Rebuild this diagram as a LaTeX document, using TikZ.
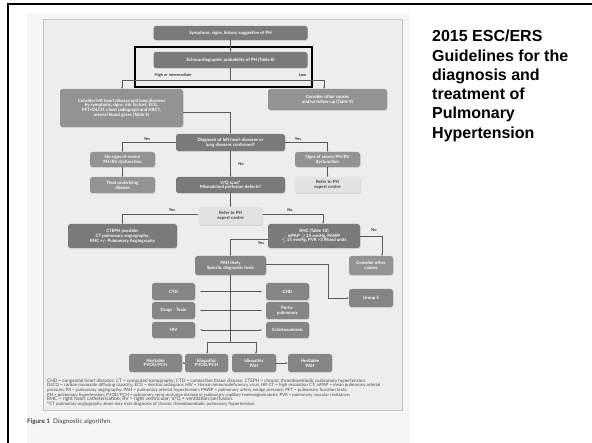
\documentclass[tikz,border=0pt]{standalone}
\usepackage{fontspec}
\setmainfont{Liberation Sans}
\newfontfamily\figfont{Lato}
\usetikzlibrary{arrows.meta,shadows}
\definecolor{boxd}{HTML}{7A7A7A}
\definecolor{boxm}{HTML}{858585}
\definecolor{boxl}{HTML}{939393}
\definecolor{refc}{HTML}{E2E2E2}
\definecolor{figbg}{HTML}{EDEDED}
\definecolor{figbd}{HTML}{C4C4C4}
\definecolor{band}{HTML}{F6F6F6}
\definecolor{lnc}{HTML}{5A5A5A}
\begin{document}
\begin{tikzpicture}[x=1pt,y=-1pt,
 box/.style={rounded corners=2.5pt, fill=boxd, text=white, font=\figfont\bfseries\fontsize{4.4}{4.8}\selectfont, align=center, inner sep=0.5pt, drop shadow={shadow xshift=0.6pt, shadow yshift=-0.9pt, opacity=0.25}},
 lbox/.style={box, fill=boxl},
 mbox/.style={box, fill=boxm},
 rbox/.style={box, fill=refc, text=black!75},
 conn/.style={draw=lnc, line width=0.5pt},
 arr/.style={conn, -{Stealth[length=2.2pt,width=1.8pt]}},
 darr/.style={conn, {Stealth[length=2.2pt,width=1.8pt]}-{Stealth[length=2.2pt,width=1.8pt]}},
 lab/.style={font=\figfont\bfseries\fontsize{4}{4.5}\selectfont, text=black!80, inner sep=0.5pt},
 fn/.style={font=\figfont\fontsize{3.9}{4}\selectfont, text=black!70, anchor=west, inner sep=0pt},
 ttl/.style={font=\bfseries\fontsize{16}{19.3}\selectfont, align=left, anchor=north west, inner sep=0pt}
]
\useasboundingbox (0,0) rectangle (592,443);
\fill[white] (0,0) rectangle (592,443);
\fill[band] (27,13) rectangle (410,443);
\fill[figbg, draw=figbd, line width=0.8pt] (43,19) rectangle (402,410);
\draw[line width=2pt] (7,4) -- (592,4);
\draw[line width=2pt] (8,3) -- (8,443);

\node[ttl] (title) at (432,30) {2015 ESC/ERS\\Guidelines for the\\diagnosis and\\treatment of\\Pulmonary\\Hypertension};

% boxes
\node[box, minimum width=154, minimum height=14] (sym) at (230.5,33) {Symptoms, signs, history suggestive of PH};
\node[box, minimum width=154, minimum height=16] (echo) at (230.5,60) {Echocardiographic probability of PH (Table 8)};
\node[lbox, minimum width=123, minimum height=38] (cleft) at (121.5,108) {Consider left heart disease and lung diseases\\by symptoms, signs, risk factors, ECG,\\PFT+DLCO, chest radiograph and HRCT,\\arterial blood gases (Table 9)};
\node[lbox, minimum width=119, minimum height=21] (cother) at (327.5,99.5) {Consider other causes\\and/or follow-up (Table 9)};
\node[box, minimum width=109, minimum height=17] (diag) at (230.5,142.5) {Diagnosis of left heart diseases or\\lung diseases confirmed?};
\node[lbox, minimum width=65, minimum height=15] (nosign) at (122.5,159.5) {No signs of severe\\PH/RV dysfunction};
\node[lbox, minimum width=65, minimum height=16] (treat) at (122.5,185) {Treat underlying\\disease};
\node[lbox, minimum width=65, minimum height=15] (sign) at (327.5,159.5) {Signs of severe PH/RV\\dysfunction};
\node[rbox, minimum width=66, minimum height=16] (ref1) at (327.5,185) {Refer to PH\\expert centre};
\node[box, minimum width=109, minimum height=16] (vq) at (230.5,185) {V/Q scan\textsuperscript{a}\\Mismatched perfusion defects?};
\node[rbox, minimum width=64, minimum height=18] (ref2) at (230.5,216) {Refer to PH\\expert centre};
\node[box, minimum width=109, minimum height=24] (cteph) at (122.5,236) {CTEPH possible:\\CT pulmonary angiography,\\RHC +/- Pulmonary Angiography};
\node[box, minimum width=92, minimum height=24] (rhc) at (314,236) {RHC (Table 10)\\mPAP $\geq$25 mmHg, PAWP\\$\leq$15 mmHg, PVR >3 Wood units};
\node[mbox, minimum width=71, minimum height=19] (pah) at (230.5,265.5) {PAH likely\\Specific diagnostic tests};
\node[lbox, minimum width=44, minimum height=19] (coth2) at (371,265.5) {Consider other\\causes};
\node[mbox, minimum width=44, minimum height=18] (g5) at (371,298) {Group 5};
\node[mbox, minimum width=43, minimum height=17] (ctd) at (173.5,291.5) {CTD};
\node[mbox, minimum width=43, minimum height=17] (chd) at (287.5,291.5) {CHD};
\node[mbox, minimum width=43, minimum height=17] (drugs) at (173.5,310.5) {Drugs - Toxin};
\node[mbox, minimum width=43, minimum height=17] (porto) at (287.5,310.5) {Porto-\\pulmonary};
\node[mbox, minimum width=43, minimum height=16] (hiv) at (173.5,330) {HIV};
\node[mbox, minimum width=43, minimum height=16] (schi) at (287.5,330) {Schistosomiasis};
\node[mbox, minimum width=53, minimum height=18] (hpvod) at (155.5,363) {Heritable\\PVOD/PCH};
\node[mbox, minimum width=43, minimum height=18] (ipvod) at (206.5,363) {Idiopathic\\PVOD/PCH};
\node[mbox, minimum width=44, minimum height=18] (ipah) at (254,363) {Idiopathic\\PAH};
\node[mbox, minimum width=44, minimum height=18] (hpah) at (310,363) {Heritable\\PAH};

% highlight frame
\draw[black, line width=1.6pt] (135,47) rectangle (312,87);

% connectors
\draw[arr] (sym) -- (echo);
\coordinate (e1) at (230.5,80);
\coordinate (eL) at (122,80);
\coordinate (eR) at (324,80);
\draw[conn] (echo.south) -- (e1);
\draw[arr] (e1) -- (eL) -- (eL |- cleft.north);
\draw[arr] (e1) -- (eR) -- (eR |- cother.north);
\node[lab, anchor=west] (lhi) at (154,75.5) {High or intermediate};
\node[lab, anchor=east] (llo) at (307,75.5) {Low};

\coordinate (c1) at (230.5,112);
\draw[arr] (cleft.east |- c1) -- (c1) -- (diag.north);

\coordinate (dL) at (122.5,142.5);
\coordinate (dR) at (327.5,142.5);
\draw[arr] (diag.west) -- (dL) -- (nosign.north);
\draw[arr] (diag.east) -- (dR) -- (sign.north);
\node[lab] (ly1) at (147,139) {Yes};
\node[lab] (ly2) at (298,139) {Yes};
\draw[arr] (nosign) -- (treat);
\draw[arr] (sign) -- (ref1);
\draw[arr] (diag) -- (vq);
\node[lab] (ln1) at (241,164) {No};
\draw[arr] (vq) -- (ref2);

\coordinate (rL) at (122.5,214);
\coordinate (rR) at (323,214);
\draw[arr] (ref2.west |- rL) -- (rL) -- (cteph.north);
\draw[arr] (ref2.east |- rR) -- (rR) -- (rR |- rhc.north);
\node[lab] (ly3) at (172,210) {Yes};
\node[lab] (ln2) at (290,210) {No};

\coordinate (hR) at (382,236);
\draw[arr] (rhc.east) -- (hR) -- (hR |- coth2.north);
\node[lab] (ln3) at (374,230.5) {No};
\coordinate (hL) at (230.5,239);
\draw[arr] (rhc.west |- hL) -- (hL) -- (pah.north);
\node[lab] (ly4) at (261,243.5) {Yes};

\coordinate (pR) at (328,264);
\draw[arr] (pah.east |- pR) -- (pR) -- (pR |- g5.west) -- (g5.west);

\coordinate (pB) at (230.5,342);
\coordinate (pBL) at (207,342);
\coordinate (pBR) at (256,342);
\draw[conn] (pah.south) -- (pB);
\draw[arr] (pB) -- (pBL) -- (pBL |- ipvod.north);
\draw[arr] (pB) -- (pBR) -- (pBR |- ipah.north);

\draw[darr] ([xshift=5]ctd.east) -- ([xshift=-4]chd.west);
\draw[darr] ([xshift=5]drugs.east) -- ([xshift=-4]porto.west);
\draw[darr] ([xshift=5]hiv.east) -- ([xshift=-4]schi.west);
\draw[arr] (ipvod.west) -- (hpvod.east);
\draw[arr] (ipah.east) -- (hpah.west);

% footnotes
\node[fn] (f1) at (47,381) {\resizebox{319pt}{!}{CHD = congenital heart diseases; CT = computed tomography; CTD = connective tissue disease; CTEPH = chronic thromboembolic pulmonary hypertension.}};
\node[fn] (f2) at (47,385.5) {\resizebox{333pt}{!}{DLCO = carbon monoxide diffusing capacity; ECG = electrocardiogram; HIV = Human immunodeficiency virus; HR-CT = high resolution CT; mPAP = mean pulmonary arterial}};
\node[fn] (f3) at (47,390) {\resizebox{300pt}{!}{pressure; PA = pulmonary angiography; PAH = pulmonary arterial hypertension; PAWP = pulmonary artery wedge pressure; PFT = pulmonary function tests;}};
\node[fn] (f4) at (47,395) {\resizebox{303pt}{!}{PH = pulmonary hypertension; PVOD/PCH = pulmonary veno-occlusive disease or pulmonary capillary haemangiomatosis; PVR = pulmonary vascular resistance;}};
\node[fn] (f5) at (47,399.5) {\resizebox{186pt}{!}{RHC = right heart catheterisation; RV = right ventricular; V/Q = ventilation/perfusion.}};
\node[fn] (f6) at (47,404) {\resizebox{208pt}{!}{\textsuperscript{a}CT pulmonary angiography alone may miss diagnosis of chronic thromboembolic pulmonary hypertension.}};

\node[anchor=west, inner sep=0pt, font=\figfont\fontsize{6.3}{7}\selectfont, text=black!75] (cap) at (27,422) {\textbf{Figure 1}\enspace Diagnostic algorithm.};
\end{tikzpicture}
\end{document}
